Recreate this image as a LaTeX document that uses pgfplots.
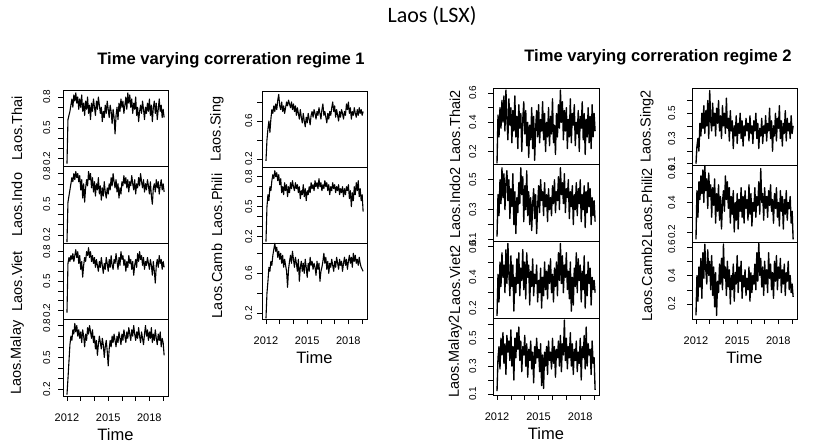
\documentclass[border=0pt]{standalone}
\usepackage{pgfplots}
\pgfplotsset{compat=1.18}
\usepackage{fontspec}
\setmainfont{Liberation Sans}
\newfontfamily\calib{Carlito}
\newcommand{\fs}[1]{\fontsize{#1}{#1}\selectfont}
\pgfplotsset{
  panel/.style={scale only axis, anchor=north west, width=105pt, height=76.5pt,
    xmin=2011.71, xmax=2019.36, axis line style={line width=0.6pt},
    tick align=outside, ytick pos=left, xtick pos=bottom, major tick length=5pt,
    tick style={black, line width=0.5pt}, xtick=\empty,
    yticklabel style={rotate=90, anchor=south, inner sep=0pt, font=\fs{10}},
    every axis y label/.style={at={(axis description cs:-0.438,0.5)}, rotate=90, anchor=center, font=\fs{14.5}},
  },
  bot/.style={xtick={2012,2013,2014,2015,2016,2017,2018,2019}, xticklabels={2012,,,2015,,,2018,},
    xticklabel style={anchor=north, inner sep=0pt, font=\fs{11}, yshift=-13pt},
    xlabel={Time}, every axis x label/.style={at={(axis description cs:0.5,0)}, anchor=center, yshift=-39pt, font=\fs{16.5}}},
  ser/.style={black, line width=1.1pt, line join=round},
  t18/.style={ytick={0.2,0.3,0.4,0.5,0.6,0.7,0.8}, yticklabels={0.2,,,0.5,,,0.8}},
  t28/.style={ytick={0.2,0.4,0.6,0.8}, yticklabels={0.2,,0.6,}},
  t26/.style={ytick={0.2,0.3,0.4,0.5,0.6}, yticklabels={0.2,,0.4,,0.6}},
  t15/.style={ytick={0.1,0.2,0.3,0.4,0.5}, yticklabels={0.1,,0.3,,0.5}},
  t16/.style={ytick={0.1,0.2,0.3,0.4,0.5,0.6}, yticklabels={0.1,,0.3,,0.5,}},
}
\newcommand{\ser}[1]{\addplot[ser] table[row sep=\\,header=false,x expr={2012+\coordindex*0.0715},y index=0]{#1};}
\newcommand{\serb}[1]{\addplot[ser, line width=1.35pt] table[row sep=\\,header=false,x expr={2012+\coordindex*0.0715},y index=0]{#1};}
\begin{document}
\begin{tikzpicture}[x=1pt,y=1pt]
\path[use as bounding box] (0,0) rectangle (823,444);
\node[font=\calib\fs{22}] at (432,428) {Laos (LSX)};
\node[font=\bfseries\fs{16.6}] at (231,384) {Time varying correration regime 1};
\node[font=\bfseries\fs{16.6}] at (658,387) {Time varying correration regime 2};
% ---------------- Column 1
\begin{axis}[panel, at={(63pt,354pt)}, ymin=0.123, ymax=0.868, t18, yticklabel shift=7.5pt, ylabel={Laos.Thai}]
\ser{0.15\\0.58\\0.62\\0.66\\0.72\\0.78\\0.70\\0.82\\0.76\\0.84\\
0.74\\0.80\\0.68\\0.78\\0.70\\0.82\\0.66\\0.74\\0.62\\0.76\\
0.68\\0.80\\0.64\\0.72\\0.58\\0.74\\0.66\\0.78\\0.70\\0.62\\
0.76\\0.68\\0.80\\0.72\\0.64\\0.70\\0.56\\0.66\\0.60\\0.72\\
0.64\\0.76\\0.68\\0.60\\0.72\\0.66\\0.54\\0.68\\0.60\\0.44\\
0.62\\0.70\\0.58\\0.74\\0.66\\0.78\\0.70\\0.76\\0.64\\0.72\\
0.80\\0.68\\0.84\\0.74\\0.82\\0.70\\0.78\\0.64\\0.74\\0.68\\
0.80\\0.62\\0.70\\0.56\\0.66\\0.72\\0.64\\0.76\\0.68\\0.58\\
0.70\\0.64\\0.74\\0.66\\0.78\\0.62\\0.72\\0.56\\0.70\\0.76\\
0.64\\0.74\\0.58\\0.68\\0.78\\0.66\\0.72\\0.60\\0.68\\0.60\\}
\end{axis}
\begin{axis}[panel, at={(63pt,277.5pt)}, ymin=0.121, ymax=0.869, t18, yticklabel shift=7.5pt, ylabel={Laos.Indo}]
\ser{0.13\\0.52\\0.58\\0.64\\0.70\\0.76\\0.72\\0.80\\0.74\\0.82\\
0.76\\0.80\\0.72\\0.78\\0.64\\0.74\\0.56\\0.70\\0.52\\0.66\\
0.74\\0.68\\0.82\\0.74\\0.80\\0.66\\0.76\\0.62\\0.72\\0.58\\
0.70\\0.64\\0.76\\0.60\\0.68\\0.54\\0.66\\0.58\\0.72\\0.62\\
0.56\\0.66\\0.60\\0.70\\0.64\\0.76\\0.68\\0.80\\0.72\\0.66\\
0.74\\0.62\\0.70\\0.56\\0.66\\0.60\\0.72\\0.68\\0.78\\0.70\\
0.76\\0.66\\0.74\\0.62\\0.72\\0.68\\0.78\\0.70\\0.64\\0.74\\
0.60\\0.70\\0.66\\0.76\\0.68\\0.80\\0.72\\0.66\\0.74\\0.62\\
0.70\\0.64\\0.74\\0.68\\0.60\\0.72\\0.58\\0.50\\0.66\\0.70\\
0.62\\0.74\\0.66\\0.72\\0.60\\0.68\\0.74\\0.64\\0.70\\0.62\\}
\end{axis}
\begin{axis}[panel, at={(63pt,201pt)}, ymin=0.109, ymax=0.888, t18, yticklabel shift=7.5pt, ylabel={Laos.Viet}]
\ser{0.18\\0.68\\0.74\\0.70\\0.76\\0.72\\0.78\\0.70\\0.76\\0.82\\
0.74\\0.80\\0.68\\0.76\\0.62\\0.70\\0.54\\0.66\\0.74\\0.70\\
0.80\\0.76\\0.84\\0.74\\0.80\\0.70\\0.76\\0.68\\0.74\\0.64\\
0.72\\0.66\\0.60\\0.70\\0.64\\0.74\\0.66\\0.58\\0.68\\0.62\\
0.74\\0.68\\0.60\\0.72\\0.64\\0.76\\0.66\\0.62\\0.72\\0.68\\
0.78\\0.70\\0.62\\0.74\\0.66\\0.80\\0.72\\0.76\\0.66\\0.72\\
0.60\\0.70\\0.64\\0.76\\0.68\\0.72\\0.62\\0.70\\0.56\\0.66\\
0.72\\0.64\\0.78\\0.70\\0.80\\0.72\\0.76\\0.66\\0.74\\0.62\\
0.70\\0.66\\0.74\\0.68\\0.62\\0.72\\0.66\\0.56\\0.70\\0.60\\
0.48\\0.66\\0.72\\0.64\\0.76\\0.68\\0.72\\0.62\\0.70\\0.64\\}
\end{axis}
\begin{axis}[panel, bot, at={(63pt,124.5pt)}, ymin=0.137, ymax=0.857, t18, yticklabel shift=7.5pt, ylabel={Laos.Malay}]
\ser{0.15\\0.30\\0.46\\0.62\\0.70\\0.66\\0.76\\0.72\\0.82\\0.74\\
0.80\\0.70\\0.76\\0.68\\0.74\\0.64\\0.76\\0.70\\0.60\\0.72\\
0.66\\0.78\\0.72\\0.80\\0.74\\0.68\\0.76\\0.64\\0.70\\0.58\\
0.66\\0.52\\0.62\\0.70\\0.64\\0.58\\0.68\\0.62\\0.50\\0.60\\
0.66\\0.56\\0.42\\0.58\\0.66\\0.60\\0.70\\0.64\\0.72\\0.66\\
0.60\\0.70\\0.64\\0.74\\0.68\\0.62\\0.72\\0.66\\0.76\\0.70\\
0.64\\0.74\\0.68\\0.78\\0.72\\0.66\\0.76\\0.70\\0.80\\0.72\\
0.66\\0.74\\0.68\\0.78\\0.70\\0.64\\0.74\\0.68\\0.62\\0.72\\
0.80\\0.70\\0.76\\0.66\\0.74\\0.68\\0.78\\0.64\\0.72\\0.66\\
0.76\\0.68\\0.62\\0.72\\0.66\\0.74\\0.60\\0.68\\0.64\\0.52\\}
\end{axis}
% ---------------- Column 2
\begin{axis}[panel, at={(262pt,353pt)}, height=76pt, ymin=0.116, ymax=0.916, t28, yticklabel shift=4.5pt, ylabel={Laos.Sing}, every axis y label/.append style={at={(axis description cs:-0.429,0.5)}}]
\ser{0.18\\0.40\\0.52\\0.60\\0.48\\0.62\\0.72\\0.68\\0.76\\0.70\\
0.78\\0.72\\0.82\\0.88\\0.76\\0.72\\0.80\\0.70\\0.76\\0.68\\
0.74\\0.80\\0.76\\0.82\\0.78\\0.74\\0.80\\0.72\\0.78\\0.70\\
0.76\\0.66\\0.74\\0.68\\0.62\\0.72\\0.64\\0.58\\0.68\\0.60\\
0.54\\0.64\\0.58\\0.68\\0.62\\0.56\\0.66\\0.70\\0.64\\0.72\\
0.68\\0.62\\0.70\\0.66\\0.74\\0.68\\0.62\\0.72\\0.78\\0.66\\
0.70\\0.64\\0.58\\0.68\\0.62\\0.70\\0.66\\0.74\\0.80\\0.70\\
0.76\\0.64\\0.72\\0.66\\0.60\\0.70\\0.64\\0.72\\0.68\\0.62\\
0.70\\0.66\\0.78\\0.72\\0.80\\0.68\\0.74\\0.62\\0.70\\0.66\\
0.74\\0.68\\0.64\\0.72\\0.66\\0.74\\0.68\\0.72\\0.66\\0.70\\}
\end{axis}
\begin{axis}[panel, at={(262pt,277pt)}, height=76pt, ymin=0.137, ymax=0.897, t18, yticklabel shift=4.5pt, ylabel={Laos.Phili}, every axis y label/.append style={at={(axis description cs:-0.429,0.5)}}]
\ser{0.15\\0.50\\0.62\\0.56\\0.70\\0.66\\0.76\\0.82\\0.78\\0.86\\
0.80\\0.84\\0.76\\0.82\\0.72\\0.78\\0.64\\0.70\\0.62\\0.74\\
0.66\\0.72\\0.60\\0.70\\0.64\\0.74\\0.68\\0.76\\0.70\\0.66\\
0.74\\0.68\\0.72\\0.64\\0.70\\0.58\\0.66\\0.62\\0.72\\0.60\\
0.68\\0.56\\0.66\\0.62\\0.70\\0.64\\0.74\\0.68\\0.72\\0.66\\
0.76\\0.70\\0.74\\0.68\\0.78\\0.70\\0.74\\0.66\\0.72\\0.68\\
0.76\\0.70\\0.74\\0.66\\0.72\\0.62\\0.70\\0.66\\0.74\\0.68\\
0.72\\0.64\\0.70\\0.66\\0.72\\0.62\\0.68\\0.64\\0.70\\0.60\\
0.68\\0.62\\0.70\\0.66\\0.72\\0.58\\0.66\\0.50\\0.64\\0.56\\
0.70\\0.62\\0.74\\0.66\\0.76\\0.60\\0.68\\0.56\\0.62\\0.45\\}
\end{axis}
\begin{axis}[panel, bot, at={(262pt,201pt)}, height=76pt, ymin=0.143, ymax=0.903, t28, yticklabel shift=4.5pt, ylabel={Laos.Camb}, every axis y label/.append style={at={(axis description cs:-0.429,0.5)}}]
\ser{0.15\\0.40\\0.52\\0.66\\0.62\\0.72\\0.68\\0.78\\0.84\\0.90\\
0.82\\0.86\\0.76\\0.82\\0.74\\0.80\\0.70\\0.78\\0.66\\0.74\\
0.68\\0.62\\0.46\\0.64\\0.72\\0.78\\0.70\\0.82\\0.74\\0.66\\
0.76\\0.70\\0.62\\0.74\\0.52\\0.66\\0.72\\0.62\\0.70\\0.60\\
0.74\\0.66\\0.56\\0.70\\0.62\\0.76\\0.68\\0.72\\0.64\\0.70\\
0.66\\0.58\\0.72\\0.64\\0.70\\0.52\\0.62\\0.66\\0.72\\0.80\\
0.70\\0.76\\0.64\\0.72\\0.60\\0.70\\0.66\\0.74\\0.68\\0.62\\
0.72\\0.66\\0.76\\0.70\\0.64\\0.74\\0.68\\0.72\\0.62\\0.70\\
0.76\\0.68\\0.74\\0.64\\0.72\\0.78\\0.70\\0.76\\0.66\\0.80\\
0.72\\0.78\\0.70\\0.74\\0.68\\0.76\\0.70\\0.66\\0.64\\0.62\\}
\end{axis}
% ---------------- Column 3
\begin{axis}[panel, at={(493pt,356pt)}, width=106pt, height=76.75pt, ymin=0.11, ymax=0.634, t26, yticklabel shift=11.5pt, ylabel={Laos.Thai2}, every axis y label/.append style={at={(axis description cs:-0.358,0.5)}}]
\serb{0.12\\0.45\\0.30\\0.50\\0.36\\0.55\\0.40\\0.58\\0.34\\0.62\\
0.42\\0.28\\0.56\\0.38\\0.50\\0.26\\0.48\\0.34\\0.58\\0.30\\
0.44\\0.22\\0.52\\0.36\\0.46\\0.20\\0.42\\0.54\\0.32\\0.48\\
0.24\\0.40\\0.16\\0.38\\0.28\\0.50\\0.22\\0.44\\0.14\\0.36\\
0.48\\0.30\\0.52\\0.26\\0.42\\0.34\\0.54\\0.28\\0.46\\0.20\\
0.40\\0.30\\0.50\\0.24\\0.44\\0.32\\0.56\\0.26\\0.38\\0.18\\
0.46\\0.30\\0.52\\0.36\\0.62\\0.40\\0.54\\0.28\\0.48\\0.34\\
0.50\\0.22\\0.42\\0.30\\0.56\\0.26\\0.46\\0.38\\0.52\\0.24\\
0.40\\0.32\\0.48\\0.20\\0.44\\0.36\\0.54\\0.28\\0.46\\0.18\\
0.42\\0.30\\0.50\\0.26\\0.44\\0.22\\0.52\\0.30\\0.46\\0.34\\}
\end{axis}
\begin{axis}[panel, at={(493pt,279.25pt)}, width=106pt, height=76.75pt, ymin=0.087, ymax=0.60, t15, yticklabel shift=11.5pt, ylabel={Laos.Indo2}, every axis y label/.append style={at={(axis description cs:-0.358,0.5)}}]
\serb{0.12\\0.40\\0.26\\0.50\\0.34\\0.58\\0.38\\0.54\\0.30\\0.48\\
0.56\\0.36\\0.50\\0.24\\0.44\\0.32\\0.54\\0.20\\0.42\\0.14\\
0.38\\0.28\\0.48\\0.34\\0.58\\0.40\\0.52\\0.22\\0.46\\0.30\\
0.56\\0.26\\0.42\\0.20\\0.38\\0.16\\0.34\\0.44\\0.24\\0.40\\
0.14\\0.32\\0.46\\0.28\\0.50\\0.36\\0.42\\0.26\\0.48\\0.32\\
0.40\\0.22\\0.44\\0.30\\0.38\\0.26\\0.46\\0.34\\0.50\\0.28\\
0.42\\0.36\\0.52\\0.30\\0.58\\0.40\\0.48\\0.34\\0.54\\0.28\\
0.44\\0.38\\0.50\\0.24\\0.42\\0.32\\0.46\\0.20\\0.40\\0.30\\
0.48\\0.26\\0.44\\0.34\\0.50\\0.22\\0.40\\0.30\\0.46\\0.18\\
0.42\\0.28\\0.48\\0.32\\0.44\\0.20\\0.38\\0.26\\0.36\\0.22\\}
\end{axis}
\begin{axis}[panel, at={(493pt,202.5pt)}, width=106pt, height=76.75pt, ymin=0.134, ymax=0.633, t26, yticklabel shift=11.5pt, ylabel={Laos.Viet2}, every axis y label/.append style={at={(axis description cs:-0.358,0.5)}}]
\serb{0.15\\0.42\\0.24\\0.50\\0.34\\0.56\\0.40\\0.48\\0.30\\0.58\\
0.36\\0.62\\0.42\\0.28\\0.54\\0.34\\0.48\\0.18\\0.40\\0.30\\
0.52\\0.36\\0.56\\0.28\\0.46\\0.38\\0.58\\0.32\\0.50\\0.26\\
0.56\\0.40\\0.48\\0.22\\0.44\\0.34\\0.52\\0.28\\0.42\\0.36\\
0.48\\0.24\\0.38\\0.30\\0.46\\0.20\\0.40\\0.28\\0.50\\0.32\\
0.44\\0.26\\0.48\\0.36\\0.52\\0.30\\0.42\\0.24\\0.46\\0.34\\
0.50\\0.28\\0.56\\0.38\\0.62\\0.36\\0.54\\0.30\\0.48\\0.40\\
0.56\\0.32\\0.44\\0.26\\0.50\\0.18\\0.40\\0.22\\0.46\\0.34\\
0.56\\0.30\\0.52\\0.38\\0.48\\0.24\\0.44\\0.32\\0.54\\0.20\\
0.42\\0.28\\0.50\\0.36\\0.46\\0.22\\0.40\\0.32\\0.38\\0.30\\}
\end{axis}
\begin{axis}[panel, bot, at={(493pt,125.75pt)}, width=106pt, height=76.75pt, ymin=0.093, ymax=0.643, t16, yticklabel shift=11.5pt, ylabel={Laos.Malay2}, every axis y label/.append style={at={(axis description cs:-0.358,0.5)}}]
\serb{0.12\\0.36\\0.44\\0.28\\0.50\\0.38\\0.54\\0.32\\0.46\\0.24\\
0.52\\0.40\\0.48\\0.34\\0.56\\0.30\\0.44\\0.20\\0.50\\0.36\\
0.54\\0.42\\0.58\\0.34\\0.48\\0.26\\0.44\\0.38\\0.52\\0.30\\
0.46\\0.22\\0.42\\0.34\\0.48\\0.28\\0.40\\0.18\\0.44\\0.32\\
0.50\\0.36\\0.42\\0.26\\0.46\\0.16\\0.38\\0.14\\0.40\\0.30\\
0.44\\0.24\\0.48\\0.34\\0.40\\0.28\\0.50\\0.32\\0.44\\0.22\\
0.42\\0.36\\0.48\\0.30\\0.52\\0.26\\0.46\\0.38\\0.63\\0.34\\
0.50\\0.28\\0.44\\0.36\\0.54\\0.30\\0.46\\0.24\\0.42\\0.34\\
0.48\\0.26\\0.40\\0.32\\0.50\\0.20\\0.44\\0.36\\0.52\\0.28\\
0.58\\0.30\\0.46\\0.38\\0.42\\0.24\\0.48\\0.32\\0.36\\0.13\\}
\end{axis}
% ---------------- Column 4
\begin{axis}[panel, at={(692pt,356pt)}, height=77pt, ymin=0.09, ymax=0.70, t16, yticklabel shift=11.5pt, ylabel={Laos.Sing2}, every axis y label/.append style={at={(axis description cs:-0.429,0.5)}}]
\serb{0.10\\0.24\\0.30\\0.20\\0.42\\0.32\\0.50\\0.38\\0.56\\0.34\\
0.52\\0.40\\0.60\\0.30\\0.68\\0.44\\0.36\\0.58\\0.40\\0.50\\
0.32\\0.54\\0.42\\0.60\\0.36\\0.48\\0.30\\0.56\\0.40\\0.50\\
0.34\\0.62\\0.38\\0.46\\0.28\\0.52\\0.36\\0.44\\0.22\\0.40\\
0.32\\0.48\\0.26\\0.42\\0.34\\0.50\\0.30\\0.44\\0.24\\0.40\\
0.32\\0.46\\0.36\\0.42\\0.28\\0.48\\0.34\\0.40\\0.26\\0.44\\
0.36\\0.50\\0.30\\0.42\\0.22\\0.38\\0.32\\0.46\\0.26\\0.40\\
0.34\\0.48\\0.28\\0.42\\0.36\\0.54\\0.30\\0.44\\0.20\\0.40\\
0.32\\0.50\\0.28\\0.46\\0.38\\0.56\\0.30\\0.44\\0.24\\0.42\\
0.34\\0.52\\0.28\\0.46\\0.36\\0.42\\0.30\\0.48\\0.34\\0.40\\}
\end{axis}
\begin{axis}[panel, at={(692pt,279pt)}, height=77pt, ymin=0.132, ymax=0.654, t26, yticklabel shift=11.5pt, ylabel={Laos.Phili2}, every axis y label/.append style={at={(axis description cs:-0.429,0.5)}}]
\serb{0.15\\0.48\\0.30\\0.54\\0.42\\0.58\\0.46\\0.62\\0.40\\0.65\\
0.48\\0.56\\0.36\\0.60\\0.44\\0.52\\0.30\\0.50\\0.38\\0.56\\
0.26\\0.46\\0.34\\0.52\\0.28\\0.44\\0.22\\0.40\\0.48\\0.34\\
0.58\\0.42\\0.54\\0.36\\0.50\\0.26\\0.44\\0.32\\0.48\\0.20\\
0.40\\0.28\\0.46\\0.22\\0.42\\0.34\\0.50\\0.30\\0.44\\0.26\\
0.48\\0.36\\0.42\\0.28\\0.52\\0.32\\0.46\\0.24\\0.40\\0.34\\
0.50\\0.30\\0.44\\0.38\\0.54\\0.32\\0.63\\0.40\\0.46\\0.28\\
0.50\\0.36\\0.44\\0.30\\0.48\\0.38\\0.52\\0.34\\0.42\\0.26\\
0.46\\0.36\\0.50\\0.30\\0.40\\0.24\\0.48\\0.34\\0.44\\0.22\\
0.42\\0.32\\0.48\\0.28\\0.40\\0.36\\0.44\\0.26\\0.34\\0.15\\}
\end{axis}
\begin{axis}[panel, bot, at={(692pt,202pt)}, height=77pt, ymin=0.095, ymax=0.635, t26, yticklabel shift=11.5pt, ylabel={Laos.Camb2}, every axis y label/.append style={at={(axis description cs:-0.429,0.5)}}]
\serb{0.12\\0.40\\0.22\\0.46\\0.32\\0.52\\0.24\\0.56\\0.38\\0.62\\
0.44\\0.34\\0.58\\0.40\\0.50\\0.30\\0.54\\0.26\\0.46\\0.18\\
0.42\\0.12\\0.36\\0.28\\0.48\\0.34\\0.52\\0.30\\0.62\\0.38\\
0.46\\0.26\\0.50\\0.32\\0.44\\0.20\\0.40\\0.30\\0.48\\0.22\\
0.42\\0.34\\0.54\\0.28\\0.46\\0.36\\0.50\\0.24\\0.40\\0.32\\
0.44\\0.26\\0.38\\0.30\\0.46\\0.22\\0.42\\0.28\\0.40\\0.34\\
0.48\\0.30\\0.56\\0.36\\0.63\\0.40\\0.52\\0.32\\0.46\\0.26\\
0.50\\0.34\\0.44\\0.28\\0.56\\0.38\\0.48\\0.30\\0.42\\0.24\\
0.50\\0.36\\0.54\\0.30\\0.46\\0.38\\0.52\\0.28\\0.44\\0.34\\
0.48\\0.26\\0.42\\0.36\\0.50\\0.30\\0.40\\0.28\\0.34\\0.25\\}
\end{axis}
\end{tikzpicture}
\end{document}
